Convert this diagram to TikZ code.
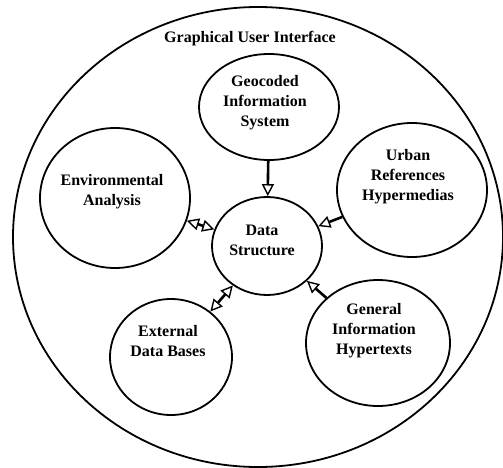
\documentclass[tikz,border=0pt]{standalone}
\usepackage{fontspec}
\setmainfont{Liberation Serif}
\usetikzlibrary{shapes.geometric,arrows.meta}
\tikzset{
   blob/.style={draw, ellipse, line width=1.8pt, inner sep=0pt},
   caption/.style={font=\bfseries\fontsize{16}{20}\selectfont, align=center, inner sep=0pt},
   oneway/.style={line width=2.6pt, -{Triangle[open, length=12pt, width=12pt, line width=1.4pt]}},
   twoway/.style={line width=2.6pt, {Triangle[open, length=12pt, width=12pt, line width=1.4pt]}-{Triangle[open, length=12pt, width=12pt, line width=1.4pt]}}
}
\begin{document}
\begin{tikzpicture}[x=1pt, y=-1pt]
   \useasboundingbox (0,0) rectangle (503,468);
   \node[blob, minimum width=490pt, minimum height=460pt] (gui) at (258,237) {};
   \node[caption] (gui-t) at (250,39) {Graphical User Interface};
   \def \Circles {
      geo/269/107/140/106/265/103/{Geocoded\\Information\\System},
      env/115/198/150/140/112/192/{Environmental\\Analysis},
      urb/412/190/150/134/408/177/{Urban\\References\\Hypermedias},
      ds/267/246/110/98/262/240/{Data\\Structure},
      ext/171/357/122/116/168/341/{External\\Data Bases},
      gen/378/343/144/126/374/331/{General\\Information\\Hypertexts}}
   \foreach \u / \x / \y / \w / \h / \tx / \ty / \n in \Circles {
      \node[blob, minimum width=\w pt, minimum height=\h pt] (\u) at (\x, \y) {};
      \node[caption] (\u-t) at (\tx, \ty) {\n};
   }
   \draw[oneway] (geo) -- (ds);
   \draw[oneway] (urb) -- (ds);
   \draw[oneway] (gen) -- (ds);
   \draw[twoway] (env) -- (ds);
   \draw[twoway] (ext) -- (ds);
\end{tikzpicture}
\end{document}
